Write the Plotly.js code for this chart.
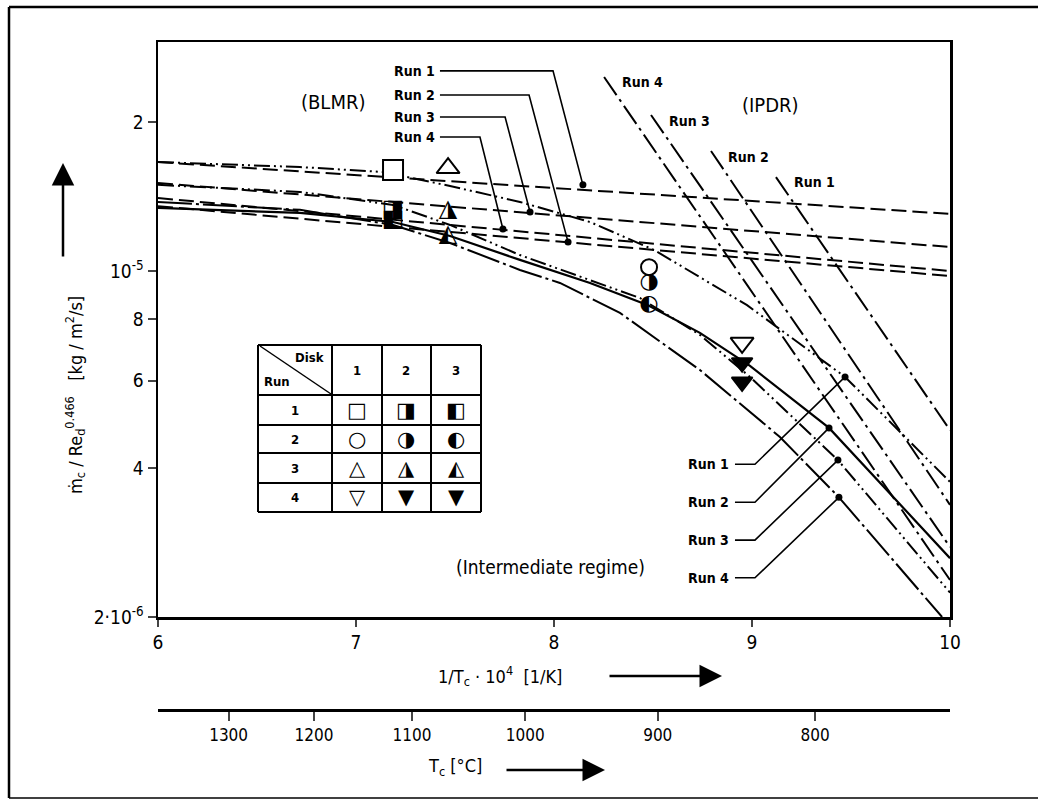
<!DOCTYPE html>
<html><head><meta charset="utf-8">
<script src="https://cdn.plot.ly/plotly-3.0.1.min.js"></script>
<style>body{margin:0;background:#fff}#chart{width:1038px;height:801px}</style>
</head><body><div id="chart"></div>
<script>
// ---------- data ----------
const runs = ['Run 1','Run 2','Run 3','Run 4'];
// BLMR asymptotes (dashed)
const blmrX = [6, 8, 10];
const blmrRun1 = [1.66e-5, 1.471e-5, 1.304e-5];
const blmrRun2 = [1.352e-5, 1.149e-5, 0.977e-5];
const blmrRun3 = [1.506e-5, 1.297e-5, 1.118e-5];
const blmrRun4 = [1.404e-5, 1.185e-5, 1.0e-5];
// IPDR asymptotes (dash-dot)
const ipdrRun1X = [9.121, 10], ipdrRun1 = [1.548e-5, 4.77e-6];
const ipdrRun2X = [8.793, 10], ipdrRun2 = [1.748e-5, 3.37e-6];
const ipdrRun3X = [8.490, 10], ipdrRun3 = [2.066e-5, 2.77e-6];
const ipdrRun4X = [8.253, 10], ipdrRun4 = [2.466e-5, 2.376e-6];
// combined (intermediate regime) curves
const combRun1X = [6, 6.717, 7.136, 7.475, 7.828, 8.182, 8.505, 8.975, 9.470, 10];
const combRun1  = [1.66e-5, 1.622e-5, 1.585e-5, 1.485e-5, 1.379e-5, 1.256e-5, 1.103e-5, 8.53e-6, 6.11e-6, 3.75e-6];
const combRun2X = [6, 6.717, 7.187, 7.475, 7.828, 8.182, 8.475, 8.737, 8.990, 9.389, 10];
const combRun2  = [1.341e-5, 1.310e-5, 1.256e-5, 1.177e-5, 1.053e-5, 9.46e-6, 8.53e-6, 7.50e-6, 6.43e-6, 4.82e-6, 2.63e-6];
const combRun3X = [6, 6.717, 7.187, 7.475, 7.828, 8.182, 8.434, 8.737, 8.990, 9.434, 10];
const combRun3  = [1.493e-5, 1.445e-5, 1.360e-5, 1.239e-5, 1.077e-5, 9.59e-6, 8.82e-6, 7.43e-6, 6.11e-6, 4.15e-6, 2.24e-6];
const combRun4X = [6, 6.717, 7.187, 7.475, 7.828, 8.030, 8.333, 8.737, 9.141, 9.439, 9.960];
const combRun4  = [1.379e-5, 1.329e-5, 1.239e-5, 1.139e-5, 1.005e-5, 9.46e-6, 8.23e-6, 6.31e-6, 4.62e-6, 3.49e-6, 2.0e-6];
// measured points: [disk1, disk2, disk3] per run
const run1X = 7.187, run1Pts = [1.60e-5, 1.33e-5, 1.27e-5];   // squares
const run2X = 8.48,  run2Pts = [1.018e-5, 0.95e-5, 8.54e-6];  // circles
const run3X = 7.465, run3Pts = [1.614e-5, 1.33e-5, 1.18e-5];  // up triangles
const run4X = 8.95,  run4Pts = [7.16e-6, 6.53e-6, 5.97e-6];   // down triangles
// leader lines (label -> dot on curve)
const topLeadX = [[7.424, 7.995, 8.146],[7.424, 7.874, 8.071],[7.424, 7.753, 7.879],[7.424, 7.626, 7.742]];
const topLeadY = [[2.537e-5, 2.537e-5, 1.493e-5],[2.268e-5, 2.268e-5, 1.144e-5],[2.047e-5, 2.047e-5, 1.316e-5],[1.865e-5, 1.865e-5, 1.216e-5]];
const botLeadX = [[8.914, 9.015, 9.470],[8.914, 9.015, 9.389],[8.914, 9.015, 9.434],[8.914, 9.015, 9.439]];
const botLeadY = [[4.07e-6, 4.07e-6, 6.11e-6],[3.41e-6, 3.41e-6, 4.82e-6],[2.86e-6, 2.86e-6, 4.15e-6],[2.40e-6, 2.40e-6, 3.49e-6]];
// axis ticks
const yTickVals = [2e-6, 4e-6, 6e-6, 8e-6, 1e-5, 2e-5];
const yTickText = ['2·10<sup>-6</sup>', '4', '6', '8', '10<sup>-5</sup>', '2'];
const xTickVals = [6, 7, 8, 9, 10];
const celsiusTicks = [1300, 1200, 1100, 1000, 900, 800];

// ---------- helpers ----------
const W = 1038, H = 801;
const px = x => x / W, py = y => 1 - y / H;
const FONT = 'DejaVu Sans Condensed, DejaVu Sans, sans-serif';
const traces = [];
function line(x, y, dash, width) {
  traces.push({x, y, mode: 'lines', type: 'scatter', hoverinfo: 'skip', showlegend: false,
    line: {color: '#000', width: width || 2, dash: dash || 'solid'}});
}
const DASH = '15px,6px';
const DASHDOT = '22px,5px,3px,5px';
const DDOT = '16px,4px,2px,4px,2px,4px';
const LDASHDOT = '34px,4px,3px,4px';

[blmrRun1, blmrRun2, blmrRun3, blmrRun4].forEach(y => line(blmrX, y, DASH, 2));
line(ipdrRun1X, ipdrRun1, DASHDOT, 2);
line(ipdrRun2X, ipdrRun2, DASHDOT, 2);
line(ipdrRun3X, ipdrRun3, DASHDOT, 2);
line(ipdrRun4X, ipdrRun4, DASHDOT, 2);
line(combRun1X, combRun1, DDOT, 2);
line(combRun2X, combRun2, 'solid', 2.2);
line(combRun3X, combRun3, DDOT, 2);
line(combRun4X, combRun4, LDASHDOT, 2);
// leaders
for (let i = 0; i < 4; i++) {
  line(topLeadX[i], topLeadY[i], 'solid', 1.6);
  line(botLeadX[i], botLeadY[i], 'solid', 1.6);
  traces.push({x: [topLeadX[i][2], botLeadX[i][2]], y: [topLeadY[i][2], botLeadY[i][2]], mode: 'markers',
    hoverinfo: 'skip', showlegend: false, marker: {color: '#000', size: 7, symbol: 'circle'}});
}
// measured points
function mk(x, y, symbol, size, filled) {
  traces.push({x: [x], y: [y], mode: 'markers', hoverinfo: 'skip', showlegend: false,
    marker: {symbol, size, color: filled ? '#000' : '#fff', line: {color: '#000', width: 2}}});
}
function glyph(x, y, ch, size) {
  traces.push({x: [x], y: [y], mode: 'text', text: [ch], hoverinfo: 'skip', showlegend: false,
    textposition: 'middle center', textfont: {family: 'DejaVu Sans', size, color: '#000'}});
}
mk(run1X, run1Pts[0], 'square', 20, false);
glyph(run1X, run1Pts[1], '◨', 24);
glyph(run1X, run1Pts[2], '◧', 24);
mk(run2X, run2Pts[0], 'circle', 16, false);
glyph(run2X, run2Pts[1], '◑', 22);
glyph(run2X, run2Pts[2], '◐', 22);
mk(run3X, run3Pts[0], 'triangle-up', 20, false);
glyph(run3X, run3Pts[1], '◮', 24);
glyph(run3X, run3Pts[2], '◭', 24);
mk(run4X, run4Pts[0], 'triangle-down', 20, false);
mk(run4X, run4Pts[1], 'triangle-down', 18, true);
mk(run4X, run4Pts[2], 'triangle-down', 18, true);
// dummy trace for secondary x axis
traces.push({x: [8], y: [1e-5], xaxis: 'x2', mode: 'markers', marker: {opacity: 0}, hoverinfo: 'skip', showlegend: false});

// ---------- annotations ----------
const ann = [];
function txt(x, y, text, size, xanchor, extra) {
  ann.push(Object.assign({xref: 'paper', yref: 'paper', x: px(x), y: py(y), text, showarrow: false,
    xanchor: xanchor || 'center', yanchor: 'middle', font: {family: FONT, size, color: '#000'}}, extra || {}));
}
function arrow(hx, hy, tx, ty) {
  ann.push({xref: 'paper', yref: 'paper', x: px(hx), y: py(hy), ax: tx - hx, ay: ty - hy, text: '',
    showarrow: true, arrowhead: 2, arrowsize: 1.8, arrowwidth: 2.5, arrowcolor: '#000'});
}
txt(333, 102, '(BLMR)', 20);
txt(770, 105, '(IPDR)', 20);
txt(550, 567, '(Intermediate regime)', 19);
const B = s => '<b>' + s + '</b>';
[71, 95, 117, 137].forEach((y, i) => txt(437, y, B(runs[i]), 14, 'right'));
[[620, 82, 3], [667, 121, 2], [726, 157, 1], [792, 182, 0]].forEach(([x, y, i]) => txt(x, y, B(runs[i]), 14, 'left'));
[464, 502, 540, 578].forEach((y, i) => txt(731, y, B(runs[i]), 14, 'right'));
txt(500, 676, '1/T<sub>c</sub> · 10<sup>4</sup>  [1/K]', 18);
arrow(722, 676, 608, 676);
txt(455, 767, 'T<sub>c</sub> [°C]', 18);
arrow(605, 770, 505, 770);
txt(75, 395, 'ṁ<sub>c</sub> / Re<sub>d</sub><sup>0.466</sup>   [kg / m<sup>2</sup>/s]', 18, 'center', {textangle: -90});
arrow(63, 163, 63, 258);
// legend table
const colX = [258, 332, 382, 431, 481], rowY = [345, 395, 425, 453, 483, 512];
const shapes = [];
const L = (x0, y0, x1, y1, w) => shapes.push({type: 'line', xref: 'paper', yref: 'paper',
  x0: px(x0), y0: py(y0), x1: px(x1), y1: py(y1), line: {color: '#000', width: w || 2}});
L(colX[0], rowY[0], colX[4], rowY[0]); L(colX[0], rowY[5], colX[4], rowY[5]);
colX.forEach(x => L(x, rowY[0], x, rowY[5]));
rowY.slice(1, 5).forEach(y => L(colX[0], y, colX[4], y));
L(colX[0] + 2, rowY[0] + 1, colX[1] - 1, rowY[1] - 1, 1.5);
txt(309, 357, B('Disk'), 13); txt(277, 381, B('Run'), 13);
const colC = [357, 406, 456], rowC = [410, 439, 468, 497.5];
['1', '2', '3'].forEach((t, i) => txt(colC[i], 370, B(t), 13));
['1', '2', '3', '4'].forEach((t, i) => txt(295, rowC[i], B(t), 13));
const tableSyms = [['□', '◨', '◧'], ['○', '◑', '◐'], ['△', '◮', '◭'], ['▽', '▼', '▼']];
tableSyms.forEach((row, r) => row.forEach((s, c) => ann.push({xref: 'paper', yref: 'paper', x: px(colC[c]), y: py(rowC[r]),
  text: s, showarrow: false, xanchor: 'center', yanchor: 'middle', font: {family: 'DejaVu Sans', size: 21, color: '#000'}})));
// outer frame
L(9, 7, 1038, 7, 2.5); L(9, 7, 9, 798, 2.5); L(9, 798, 1038, 798, 1.5);

const layout = {
  width: W, height: H, margin: {l: 0, r: 0, t: 0, b: 0},
  paper_bgcolor: '#fff', plot_bgcolor: '#fff', showlegend: false,
  font: {family: FONT, size: 17, color: '#000'},
  xaxis: {domain: [px(158), px(950)], range: [6, 10], tickvals: xTickVals, ticks: 'outside', ticklen: 7, tickwidth: 2,
    showline: true, mirror: true, linewidth: 2.5, linecolor: '#000', showgrid: false, zeroline: false,
    tickfont: {family: FONT, size: 19}, anchor: 'y'},
  xaxis2: {overlaying: 'x', anchor: 'free', position: py(710), side: 'bottom', range: [6, 10],
    tickvals: celsiusTicks.map(c => 1e4 / (c + 273.15)), ticktext: celsiusTicks.map(String),
    ticks: 'outside', ticklen: 9, tickwidth: 2, showline: true, linewidth: 3, linecolor: '#000',
    showgrid: false, zeroline: false, tickfont: {family: FONT, size: 17}},
  yaxis: {domain: [py(617), py(42)], type: 'log', range: [Math.log10(2e-6), Math.log10(2e-5) + 80 / 495],
    tickvals: yTickVals, ticktext: yTickText, ticks: 'outside', ticklen: 8, tickwidth: 2,
    showline: true, mirror: true, linewidth: 2.5, linecolor: '#000', showgrid: false, zeroline: false,
    tickfont: {family: FONT, size: 19}},
  annotations: ann, shapes
};
Plotly.newPlot('chart', traces, layout, {staticPlot: true});
</script></body></html>
